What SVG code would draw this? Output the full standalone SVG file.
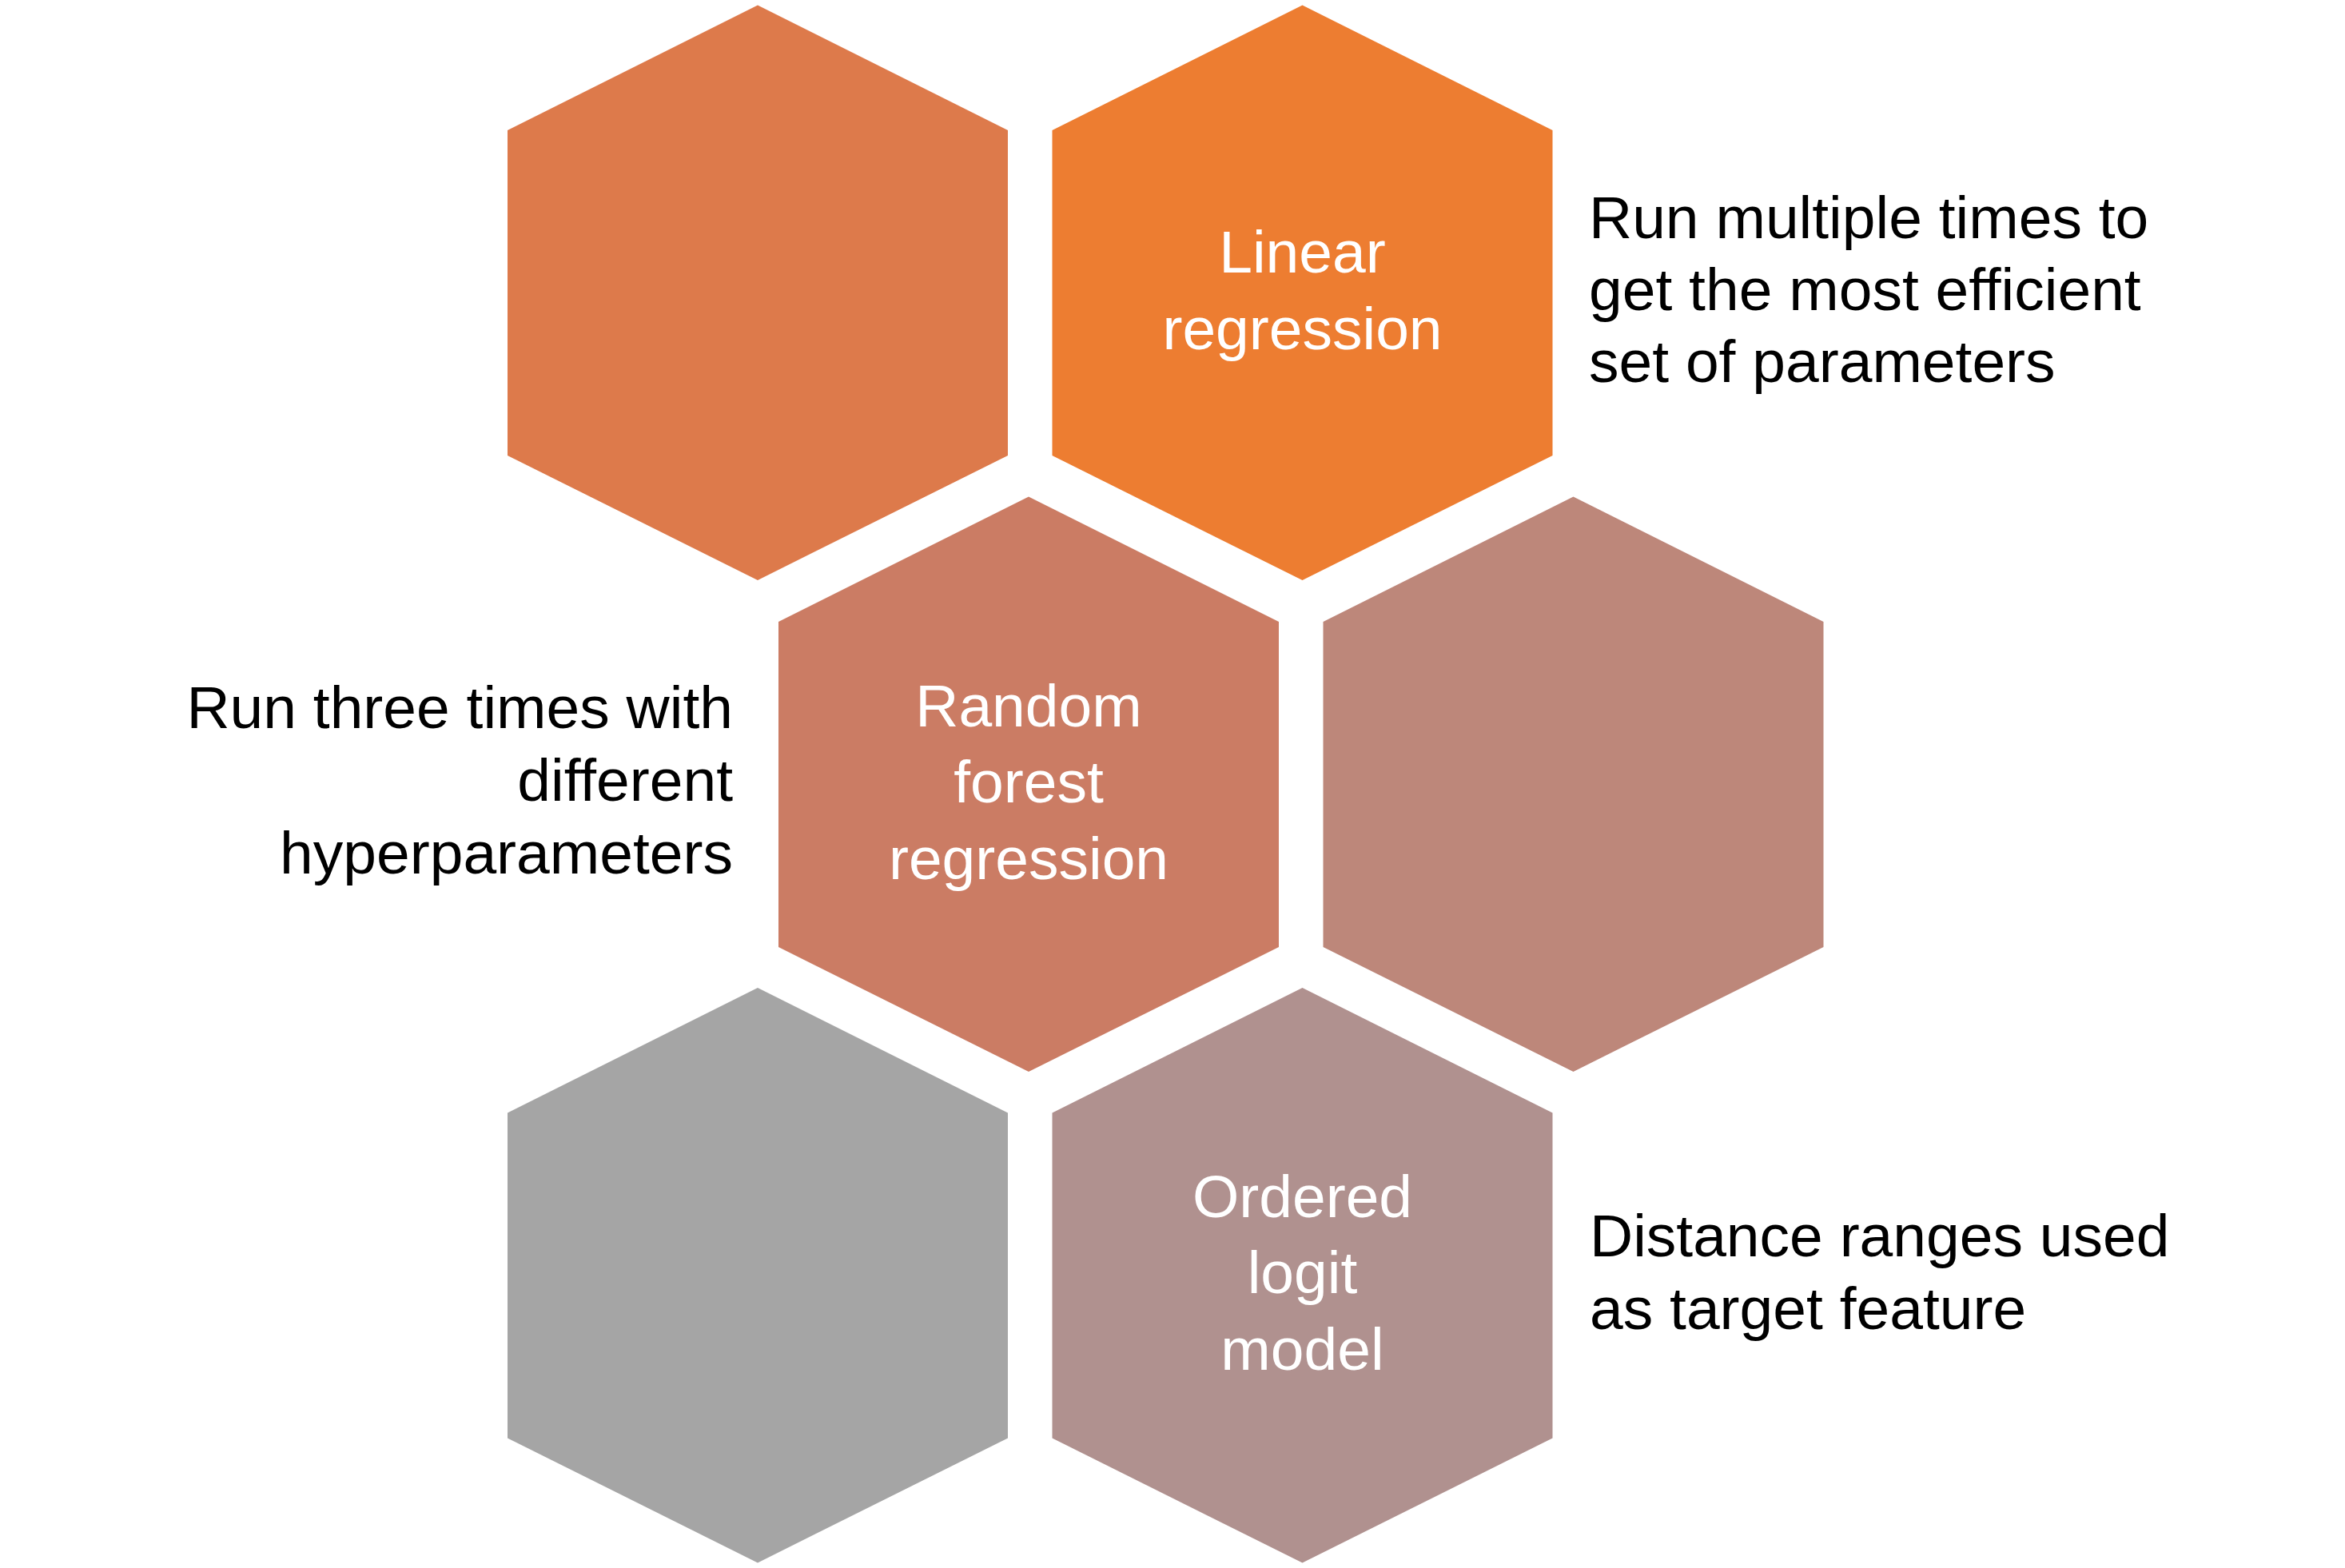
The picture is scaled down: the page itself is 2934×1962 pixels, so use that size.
<svg xmlns="http://www.w3.org/2000/svg" width="2934" height="1962" viewBox="0 0 2934 1962">
<style>
.hl{font-family:"Liberation Sans",Arial,sans-serif;font-size:75px;fill:#FFFFFF;text-anchor:middle}
.sl{font-family:"Liberation Sans",Arial,sans-serif;font-size:75px;fill:#000000}
.r{text-anchor:end}
</style>
<defs>
<polygon id="hex" points="0,0 313,156.5 313,563.5 0,719.5 -313,563.5 -313,156.5"/>
</defs>
<rect x="0" y="0" width="2934" height="1962" fill="#FFFFFF"/>
<g id="hex1"><use href="#hex" x="948" y="6.5" fill="#DD7A4B"/></g>
<g id="hex2"><use href="#hex" x="1629.5" y="6.5" fill="#ED7D31"/>
<text class="hl" x="1629.5" y="341">Linear</text>
<text class="hl" x="1629.5" y="437">regression</text></g>
<g id="hex3"><use href="#hex" x="1287" y="621.5" fill="#CB7C64"/>
<text class="hl" x="1287" y="908.5">Random</text>
<text class="hl" x="1287" y="1004">forest</text>
<text class="hl" x="1287" y="1099.5">regression</text></g>
<g id="hex4"><use href="#hex" x="1968.5" y="621.5" fill="#BD877A"/></g>
<g id="hex5"><use href="#hex" x="948" y="1236" fill="#A5A5A5"/></g>
<g id="hex6"><use href="#hex" x="1629.5" y="1236" fill="#B0918F"/>
<text class="hl" x="1629.5" y="1522.5">Ordered</text>
<text class="hl" x="1629.5" y="1618">logit</text>
<text class="hl" x="1629.5" y="1714">model</text></g>
<g id="note1">
<text class="sl" x="1988" y="298">Run multiple times to</text>
<text class="sl" x="1988" y="388">get the most efficient</text>
<text class="sl" x="1988" y="478">set of parameters</text></g>
<g id="note2">
<text class="sl r" x="917" y="911">Run three times with</text>
<text class="sl r" x="917" y="1002">different</text>
<text class="sl r" x="917" y="1093">hyperparameters</text></g>
<g id="note3">
<text class="sl" x="1989" y="1572">Distance ranges used</text>
<text class="sl" x="1989" y="1663">as target feature</text></g>
<g id="connectors"></g>
</svg>
